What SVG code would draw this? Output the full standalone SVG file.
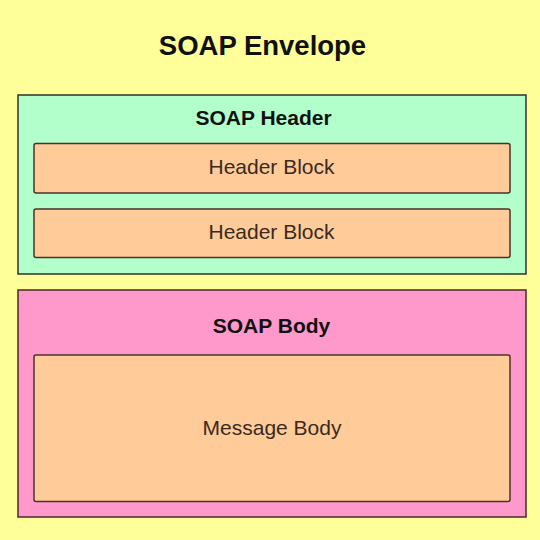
<svg xmlns="http://www.w3.org/2000/svg" width="540" height="540" viewBox="0 0 540 540">
<style>
.box{stroke:#2f3328;stroke-width:1.5}
.hdr{fill:#b3ffcc}
.body{fill:#ff99cc;stroke:#4a2a2a}
.blk{fill:#ffcc99;stroke:#4a3228;stroke-width:1.5}
.title{font-family:"Liberation Sans",Arial,sans-serif;font-weight:bold;fill:#111;text-anchor:middle}
.lbl{font-family:"Liberation Sans",Arial,sans-serif;font-size:21px;fill:#3a2a20;text-anchor:middle}
</style>
<rect x="0" y="0" width="540" height="540" fill="#ffff99"/>
<g id="envelope">
<text class="title" x="262.5" y="55" font-size="27.5">SOAP Envelope</text>
</g>
<g id="soap-header">
<rect class="box hdr" x="18" y="95" width="508" height="179"/>
<text class="title" x="263.5" y="125" font-size="21">SOAP Header</text>
</g>
<g id="header-block-1">
<rect class="blk" x="34" y="143.5" width="476" height="49.5" rx="2"/>
<text class="lbl" x="271.5" y="174">Header Block</text>
</g>
<g id="header-block-2">
<rect class="blk" x="34" y="209" width="476" height="48.5" rx="2"/>
<text class="lbl" x="271.5" y="239">Header Block</text>
</g>
<g id="soap-body">
<rect class="box body" x="18" y="290" width="508" height="227"/>
<text class="title" x="271.5" y="333" font-size="21">SOAP Body</text>
</g>
<g id="message-body">
<rect class="blk" x="34" y="355" width="476" height="146.5" rx="2"/>
<text class="lbl" x="272" y="435">Message Body</text>
</g>
<g id="connectors"/>
</svg>
